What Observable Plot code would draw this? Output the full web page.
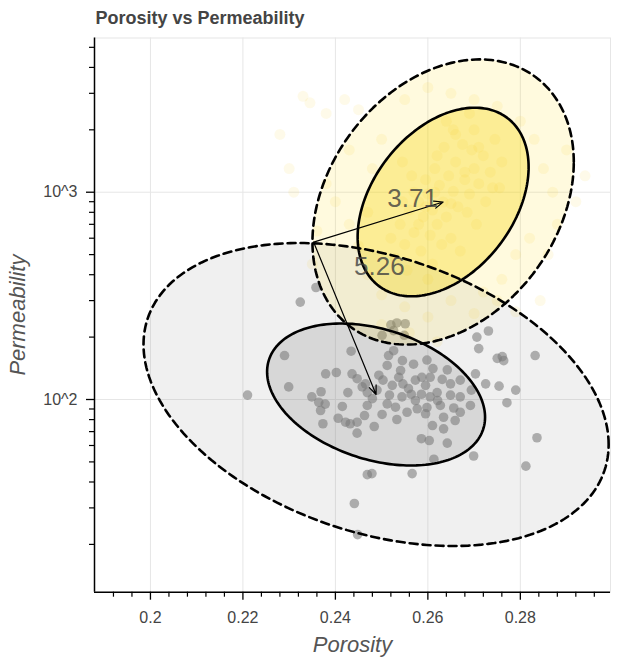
<!DOCTYPE html>
<html><head><meta charset="utf-8">
<script src="https://cdn.jsdelivr.net/npm/d3@7"></script>
<script src="https://cdn.jsdelivr.net/npm/@observablehq/plot@0.6"></script>
<style>body{margin:0;background:#fff;}</style>
</head><body><div id="chart"></div>
<script>
// ---- data ----
const title = "Porosity vs Permeability";
const xLabel = "Porosity";
const yLabel = "Permeability";

const xMajorTicks = [0.2, 0.22, 0.24, 0.26, 0.28];
const xMinorTicks = [0.192,0.196,0.204,0.208,0.212,0.216,0.224,0.228,0.232,0.236,0.244,0.248,0.252,0.256,0.264,0.268,0.272,0.276,0.284,0.288,0.292,0.296];
const yMajorTicks = [100, 1000];
const yMinorTicks = [20,30,40,50,60,70,80,90,200,300,400,500,600,700,800,900,2000,3000,4000,5000];
const xDomain = [0.1879, 0.2995];
const yDomain = [11.76, 5546];

// gray cluster samples
const grayPorosity = [0.2358,0.2324,0.2290,0.2299,0.2210,0.2379,0.2402,0.2434,0.2436,0.2447,0.2458,0.2427,0.2369,0.2349,0.2364,0.2378,0.2368,0.2415,0.2406,0.2422,0.2432,0.2447,0.2373,0.2447,0.2469,0.2465,
0.2520,0.2533,0.2551,0.2526,0.2549,0.2501,0.2526,0.2512,0.2541,0.2569,0.2598,0.2611,0.2642,0.2537,0.2546,0.2573,0.2587,0.2605,0.2631,0.2503,0.2494,0.2490,0.2469,0.2517,0.2544,0.2564,0.2586,0.2620,0.2649,0.2649,0.2605,0.2670,0.2694,0.2530,0.2555,0.2577,0.2598,0.2595,0.2501,0.2533,0.2484,0.2634,0.2656,0.2670,0.2627,0.2512,0.2586,0.2603,0.2634,0.2642,0.2699,0.2613,0.2469,0.2479,0.2566,
0.2703,0.2725,0.2754,0.2706,0.2731,0.2710,0.2750,0.2764,0.2761,0.2790,0.2771,0.2832,0.2836,0.2812,0.2441,0.2448,
0.2523,0.2558,0.2595,0.2621,0.2573,0.2545,0.2515,0.2480,0.2463,0.2610,0.2659,0.2692,0.2670];
const grayPerm = [347,295,163,115,105,133,135,171,133,126,115,108,109,103,97,95,88.5,92.6,81.2,77.7,76.4,77.7,76.4,68.8,93.6,119,
229,234,232,215,204,204,172,146,138,148,155,141,139,128,119,124,128,128,125,124,131,111,108,105,103,106,106,108,105,119,103,103,111,91.8,86.8,90.2,91.5,85.3,84.7,80.1,74.1,82.1,91.0,86.8,93.6,95.3,64.7,63.4,72.2,61.6,53.4,51.5,43.4,43.9,43.9,
133,119,116,200,214,176,158,154,161,111,96.5,163,65.4,47.7,31.5,22.3,
117,113,117,98.9,98.9,154,163,101,83.7,74.9,79.2,93.6,124];

// yellow cluster samples (faint)
const yellowPorosity = [0.2633,0.2610,0.2655,0.2590,0.2680,0.2570,0.2700,0.2620,0.2645,0.2600,0.2665,0.2550,0.2720,0.2580,0.2690,0.2625,0.2660,0.2540,0.2710,0.2605,0.2640,0.2675,0.2560,0.2695,0.2615,0.2585,0.2735,0.2650,0.2530,0.2745,0.2620,0.2570,0.2685,0.2700,0.2595,0.2660,0.2545,0.2610,0.2725,0.2635,0.2580,0.2705,0.2670,0.2555,0.2760,0.2640,0.2520,0.2690,0.2600,0.2755,
0.2470,0.2480,0.2500,0.2430,0.2380,0.2330,0.2345,0.2420,0.2450,0.2550,0.2600,0.2650,0.2700,0.2750,0.2800,0.2830,0.2850,0.2870,0.2880,0.2820,0.2790,0.2860,0.2760,0.2720,0.2700,0.2650,0.2600,0.2550,0.2500,0.2470,0.2450,0.2430,0.2400,0.2380,0.2360,0.2350,0.2500,0.2560,0.2620,0.2900,0.2920,0.2750,0.2843,0.2790,0.2940,0.2280,0.2300,0.2310,
0.2615,0.2650,0.2595,0.2680,0.2630,0.2565,0.2710,0.2740,0.2545,0.2655];
const yellowPerm = [897,820,1010,760,1150,640,1300,700,1200,980,850,560,1500,900,980,1080,1400,700,1100,620,760,1700,820,1600,1300,520,1250,600,480,1800,1500,1000,800,2000,1150,1900,900,450,900,1650,700,700,520,420,1400,2200,600,2400,380,1050,
800,1300,1800,1600,2400,2900,2700,2800,2500,2800,3200,3000,2800,2600,2200,1800,1300,1000,700,600,500,500,380,330,260,300,250,280,320,400,550,700,900,1100,650,450,230,210,190,1600,900,300,300,265,1200,1900,1300,1000,
1000,880,850,1250,560,1200,1650,1050,1400,2000];

// confidence ellipses: center, spread (porosity, log10 perm), correlation
const ellipseGroup = ["gray","gray","yellow","yellow"];
const ellipseLevel = ["outer","inner","outer","inner"];
const ellipseCenterPorosity = [0.2488, 0.2488, 0.2633, 0.2633];
const ellipseCenterPerm = [105.7, 105.7, 897, 897];
const ellipseSdPorosity = [0.0503, 0.02357, 0.02826, 0.01849];
const ellipseSdLogPerm = [0.7308, 0.3425, 0.6879, 0.4549];
const ellipseRho = [-0.33, -0.32, 0.28, 0.37];

// distance arrows
const arrowFromPorosity = [0.2353, 0.2353];
const arrowFromPerm = [574, 574];
const arrowToPorosity = [0.2633, 0.2488];
const arrowToPerm = [897, 105.7];
const distLabels = ["3.71", "5.26"];
const distLabelPorosity = [0.2567, 0.2495];
const distLabelPerm = [932, 438];

// ---- build ----
function outline(i) {
  const pts = [];
  const N = 200;
  const c = Math.log10(ellipseCenterPerm[i]);
  const rho = ellipseRho[i];
  const s = Math.sqrt(1 - rho * rho);
  for (let k = 0; k < N; k++) {
    const t = 2 * Math.PI * k / N;
    pts.push({
      porosity: ellipseCenterPorosity[i] + ellipseSdPorosity[i] * Math.cos(t),
      perm: Math.pow(10, c + ellipseSdLogPerm[i] * (rho * Math.cos(t) + s * Math.sin(t)))
    });
  }
  return pts;
}
const E = ellipseGroup.map((g, i) => outline(i));
const grayPts = grayPorosity.map((p, i) => ({porosity: p, perm: grayPerm[i]}));
const yellowPts = yellowPorosity.map((p, i) => ({porosity: p, perm: yellowPerm[i]}));
const arrows = arrowFromPorosity.map((p, i) => ({x1: p, y1: arrowFromPerm[i], x2: arrowToPorosity[i], y2: arrowToPerm[i]}));
const labels = distLabels.map((t, i) => ({text: t, porosity: distLabelPorosity[i], perm: distLabelPerm[i]}));

const FONT = "'Liberation Sans', Arial, Helvetica, sans-serif";
const GRID = "#e6e6e6";

const fillLine = (pts, color, op) => Plot.line(pts, {x: "porosity", y: "perm", curve: "linear-closed", fill: color, fillOpacity: op, stroke: "none"});
const strokeLine = (pts, dashed) => Plot.line(pts, {x: "porosity", y: "perm", curve: "linear-closed", fill: "none", stroke: "black", strokeWidth: 2.6, strokeDasharray: dashed ? "8,5" : null});

const chart = Plot.plot({
  width: 617,
  height: 659,
  marginLeft: 94,
  marginTop: 37.5,
  marginRight: 7,
  marginBottom: 67.3,
  style: {fontFamily: FONT, background: "white", overflow: "visible"},
  x: {domain: xDomain, label: null},
  y: {type: "log", domain: yDomain, label: null},
  marks: [
    Plot.frame({stroke: GRID}),
    Plot.gridX(xMajorTicks, {stroke: GRID, strokeOpacity: 1}),
    Plot.gridY(yMajorTicks, {stroke: GRID, strokeOpacity: 1}),
    fillLine(E[0], "#808080", 0.12),
    fillLine(E[1], "#808080", 0.22),
    Plot.dot(grayPts, {x: "porosity", y: "perm", r: 4.8, fill: "#7a7a7a", fillOpacity: 0.58}),
    fillLine(E[2], "#ffd700", 0.13),
    fillLine(E[3], "#f5d500", 0.33),
    Plot.dot(yellowPts, {x: "porosity", y: "perm", r: 5.5, fill: "#f0c400", fillOpacity: 0.085}),
    strokeLine(E[0], true),
    strokeLine(E[1], false),
    strokeLine(E[2], true),
    strokeLine(E[3], false),
    Plot.arrow(arrows, {x1: "x1", y1: "y1", x2: "x2", y2: "y2", stroke: "black", strokeWidth: 1.2, headLength: 12, headAngle: 45}),
    Plot.text(labels, {x: "porosity", y: "perm", text: "text", fontSize: 26, fill: "#3f3f3f", fillOpacity: 0.8, textAnchor: "middle", lineAnchor: "middle"}),
    Plot.ruleX([xDomain[0]], {stroke: "black", strokeWidth: 1.5}),
    Plot.ruleY([yDomain[0]], {stroke: "black", strokeWidth: 1.5}),
    Plot.axisX(xMajorTicks, {tickSize: 8, tickPadding: 11, fontSize: 16, fill: "#444", stroke: "black", strokeWidth: 1.3, label: null, tickFormat: d => String(+d.toFixed(3))}),
    Plot.axisX(xMinorTicks, {tickSize: 5, stroke: "black", strokeWidth: 1.2, label: null, tickFormat: () => ""}),
    Plot.axisY(yMajorTicks, {tickSize: 8, tickPadding: 9, fontSize: 16, fill: "#444", stroke: "black", strokeWidth: 1.3, label: null, tickFormat: d => "10^" + Math.round(Math.log10(d))}),
    Plot.axisY(yMinorTicks, {tickSize: 5, stroke: "black", strokeWidth: 1.2, label: null, tickFormat: () => ""}),
    Plot.text([title], {frameAnchor: "top-left", text: d => d, dx: 1, dy: -19.5, textAnchor: "start", lineAnchor: "middle", fontSize: 18, fontWeight: "bold", fill: "#444"}),
    Plot.text([xLabel], {frameAnchor: "bottom", text: d => d, dy: 52.6, textAnchor: "middle", lineAnchor: "middle", fontSize: 22, fontStyle: "italic", fill: "#555"}),
    Plot.text([yLabel], {frameAnchor: "left", text: d => d, dx: -76.5, rotate: -90, textAnchor: "middle", lineAnchor: "middle", fontSize: 22, fontStyle: "italic", fill: "#555"})
  ]
});
document.getElementById("chart").appendChild(chart);
</script>
</body></html>
